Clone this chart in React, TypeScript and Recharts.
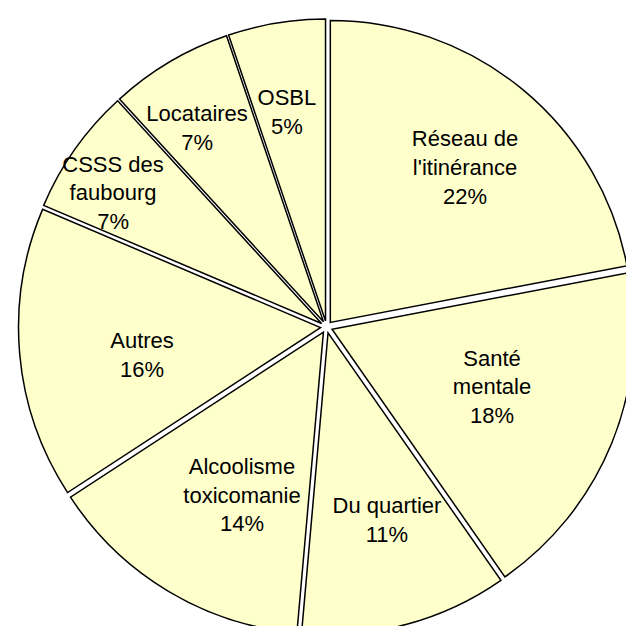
import { PieChart, Pie, Cell } from "recharts";

const categories = [
  "Réseau de l'itinérance",
  "Santé mentale",
  "Du quartier",
  "Alcoolisme toxicomanie",
  "Autres",
  "CSSS des faubourg",
  "Locataires",
  "OSBL",
];
// shares (labels show them rounded)
const shares = [22.0, 18.3, 11.1, 14.4, 15.6, 6.8, 6.6, 5.2];
const labelLines = [
  ["Réseau de", "l'itinérance"],
  ["Santé", "mentale"],
  ["Du quartier"],
  ["Alcoolisme", "toxicomanie"],
  ["Autres"],
  ["CSSS des", "faubourg"],
  ["Locataires"],
  ["OSBL"],
];

// layout: Excel "best fit" label placement, as radius fraction + angle nudge (deg, clockwise)
const labelRadius = [0.68, 0.563, 0.651, 0.603, 0.598, 0.815, 0.766, 0.704];
const labelTurn = [1.4, -2.3, -2.5, -4.4, -3.7, -3.2, -2.5, -1.1];

const FILL = "#FFFFCC";
const EXPLODE = 6;
const FONT = "'Liberation Sans', Arial, sans-serif";
const RAD = Math.PI / 180;

const data = categories.map((name, i) => ({ name, value: shares[i] }));

const total = shares.reduce((a, b) => a + b, 0);
let acc = 0;
const offsets = shares.map((v) => {
  const mid = (90 - (360 * (acc + v / 2)) / total) * RAD;
  acc += v;
  return [EXPLODE * Math.cos(mid), -EXPLODE * Math.sin(mid)];
});

function renderLabel(props: any) {
  const { cx, cy, midAngle, outerRadius, index, percent } = props;
  const r = outerRadius * labelRadius[index];
  const a = (midAngle - labelTurn[index]) * RAD;
  const x = cx + r * Math.cos(-a) + offsets[index][0];
  const y = cy + r * Math.sin(-a) + offsets[index][1];
  const lines = [...labelLines[index], `${Math.round(percent * 100)}%`];
  const lh = 28.8;
  return (
    <text
      key={index}
      x={x}
      y={y}
      textAnchor="middle"
      fontFamily={FONT}
      fontSize={22}
      fill="#000"
    >
      {lines.map((t, i) => (
        <tspan
          key={i}
          x={x}
          y={y + (i - (lines.length - 1) / 2) * lh}
          dominantBaseline="central"
        >
          {t}
        </tspan>
      ))}
    </text>
  );
}

export default function App() {
  return (
    <div style={{ position: "absolute", left: 0, top: 0, width: 626, height: 626, background: "#fff" }}>
      <PieChart width={626} height={626}>
        <Pie
          data={data}
          dataKey="value"
          nameKey="name"
          cx={321.5}
          cy={322}
          outerRadius={302}
          startAngle={90}
          endAngle={-270}
          stroke="#000"
          strokeWidth={1.5}
          label={renderLabel}
          labelLine={false}
          isAnimationActive={false}
        >
          {data.map((_, i) => (
            <Cell
              key={i}
              fill={FILL}
              transform={`translate(${offsets[i][0]},${offsets[i][1]})`}
            />
          ))}
        </Pie>
      </PieChart>
    </div>
  );
}
